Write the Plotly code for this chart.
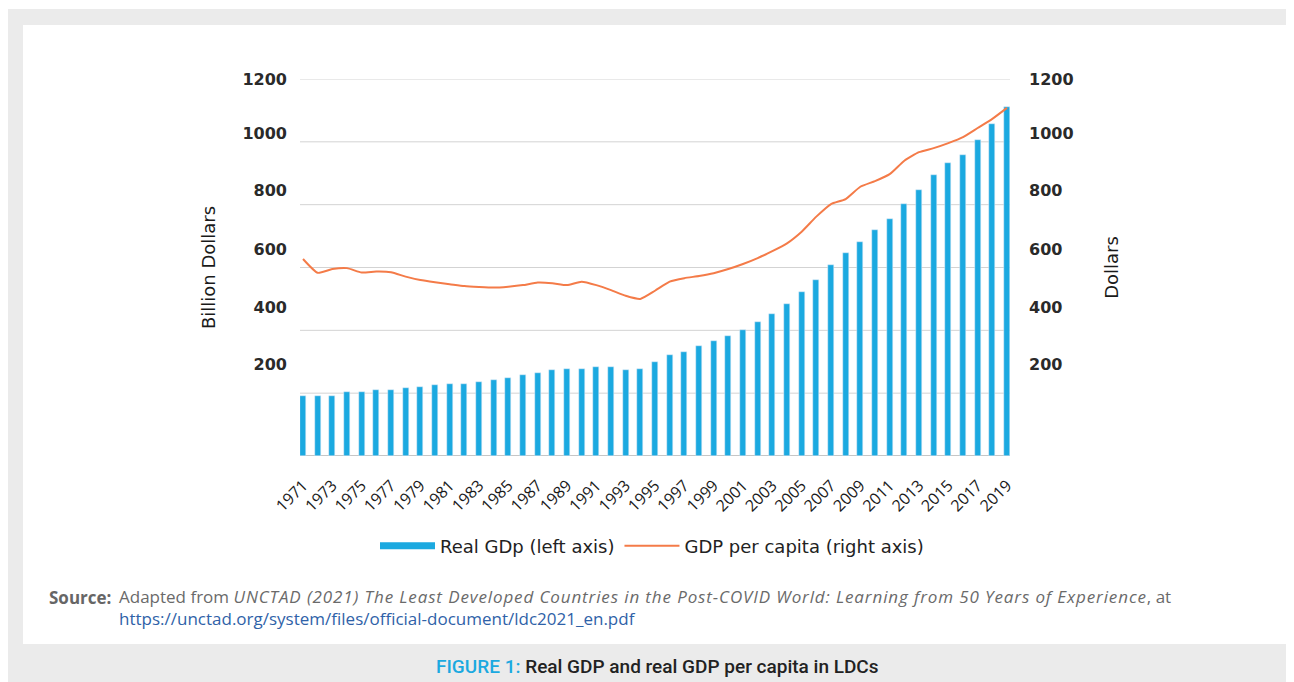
import plotly.graph_objects as go

# ---------------- data ----------------
years = list(range(1971, 2020))
real_gdp = [191, 191, 191, 204, 204, 210, 210, 216, 220, 226,
            229, 229, 236, 242, 248, 258, 264, 274, 277, 277,
            283, 283, 274, 277, 299, 321, 331, 350, 366, 382,
            401, 427, 452, 484, 522, 560, 608, 646, 681, 719,
            754, 802, 847, 894, 933, 958, 1006, 1057, 1111]
gdp_per_capita = [627, 583, 595, 598, 584, 587, 585, 571, 560, 553,
                  547, 541, 538, 536, 539, 544, 552, 550, 544, 555,
                  544, 528, 510, 500, 526, 555, 566, 573, 582, 595,
                  611, 630, 652, 677, 714, 762, 802, 818, 857, 875,
                  897, 940, 967, 980, 996, 1015, 1044, 1073, 1108]
year_ticks = list(range(1971, 2020, 2))
grid_vals = [0, 200, 400, 600, 800, 1000, 1200]
label_text = ["200", "400", "600", "800", "1000", "1200"]
label_pos = [293, 474, 659, 847, 1028, 1200]

# ---------------- layout helpers ----------------
OFF = 8                      # page body margin
W, H = 1294 - OFF, 682 - OFF
PL, PR, PT, PB = 300, 1010, 79, 456     # plot area in screen pixels


def px(x):
    return (x - PL) / (PR - PL)


def py(y):
    return (PB - y) / (PB - PT)


BLUE = "#1BA9E0"
ORANGE = "#F47B48"
GRID = "#D3D3D3"
TXT = "#1a1a1a"

fig = go.Figure()
fig.add_trace(go.Bar(x=years, y=real_gdp, marker_color=BLUE, width=0.41,
                     name="Real GDp (left axis)", showlegend=False, yaxis="y"))
# legend entry for the bars, drawn as a thick line like the reference
fig.add_trace(go.Scatter(x=[None], y=[None], mode="lines",
                         line=dict(color=BLUE, width=7),
                         name="Real GDp (left axis)", yaxis="y"))
fig.add_trace(go.Scatter(x=years, y=gdp_per_capita, mode="lines",
                         line=dict(color=ORANGE, width=2, shape="spline", smoothing=0.5),
                         name="GDP per capita (right axis)", yaxis="y2"))

tickfont = dict(family="DejaVu Sans", size=16, color="#2a2a2a", weight="bold")
titlefont = dict(family="DejaVu Sans", size=18, color=TXT)

shapes = [
    dict(type="rect", xref="paper", yref="paper", layer="below",
         x0=px(7), x1=px(1300), y0=py(690), y1=py(9),
         fillcolor="#EBEBEB", line=dict(width=0)),
    dict(type="rect", xref="paper", yref="paper", layer="below",
         x0=px(23), x1=px(1291), y0=py(644), y1=py(25),
         fillcolor="white", line=dict(width=0)),
]
for v in grid_vals:
    shapes.append(dict(type="line", xref="paper", yref="y", layer="below",
                       x0=0, x1=1, y0=v, y1=v,
                       line=dict(color="#C6C6C6" if v == 0 else GRID, width=2 if v == 0 else 1)))

fig.update_layout(
    width=W, height=H, autosize=False,
    margin=dict(l=PL - OFF, r=W - (PR - OFF), t=PT - OFF, b=H - (PB - OFF)),
    paper_bgcolor="white", plot_bgcolor="rgba(0,0,0,0)",
    bargap=0,
    xaxis=dict(range=[1970.795, 2019.205], tickmode="array", tickvals=year_ticks,
               ticktext=[str(y) for y in year_ticks], tickangle=-45,
               tickfont=dict(family="Open Sans", size=16, color=TXT),
               ticklabelstandoff=16,
               showgrid=False, zeroline=False, showline=False, ticks=""),
    yaxis=dict(range=[0, 1200], tickmode="array", tickvals=label_pos, ticktext=label_text,
               tickfont=tickfont, showgrid=False, zeroline=False, showline=False,
               ticklabelstandoff=12,
               title=dict(text="Billion Dollars", font=titlefont, standoff=22)),
    yaxis2=dict(range=[0, 1200], overlaying="y", side="right", tickmode="array",
                tickvals=label_pos, ticktext=label_text, tickfont=tickfont,
                showgrid=False, zeroline=False, showline=False, ticklabelstandoff=18,
                title=dict(text="Dollars", font=titlefont, standoff=32)),
    legend=dict(orientation="h", x=px(652), xanchor="center", y=py(546), yanchor="middle",
                font=dict(family="DejaVu Sans", size=18, color="#222"),
                itemwidth=55, bgcolor="rgba(0,0,0,0)", traceorder="normal"),
    shapes=shapes,
    annotations=[
        dict(xref="paper", yref="paper", x=px(47), y=py(597), xanchor="left", yanchor="middle",
             text="<b>Source:</b>", showarrow=False,
             font=dict(family="Open Sans", size=17, color="#666666")),
        dict(xref="paper", yref="paper", x=px(117), y=py(607.5), xanchor="left", yanchor="middle",
             align="left", showarrow=False,
             text=("Adapted from <span style='letter-spacing:0.88px'><i>UNCTAD (2021) The Least Developed "
                   "Countries in the Post-COVID World: Learning from 50 Years of Experience</i></span>, at<br>"
                   "<span style='color:#2F62A8'>https://unctad.org/system/files/official-document/ldc2021_en.pdf</span>"),
             font=dict(family="Open Sans", size=17, color="#6A6A6A")),
        dict(xref="paper", yref="paper", x=px(657), y=py(666), xanchor="center", yanchor="middle",
             showarrow=False,
             text=("<span style='color:#1BA9E0'>FIGURE 1:</span> "
                   "Real GDP and real GDP per capita in LDCs"),
             font=dict(family="Roboto", size=19, color="#222222", weight=500)),
    ],
)

fig.write_html("out.html")
